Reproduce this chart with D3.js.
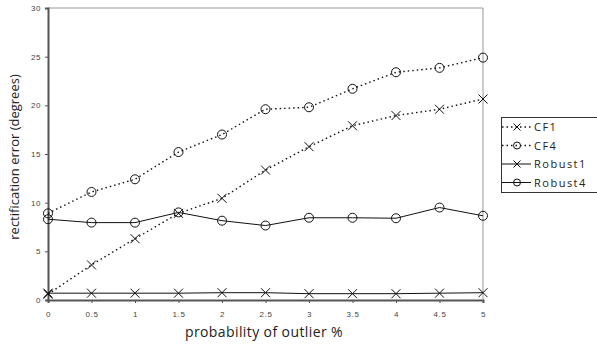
<!DOCTYPE html>
<html>
<head>
<meta charset="utf-8">
<script src="https://cdn.jsdelivr.net/npm/d3@7/dist/d3.min.js"></script>
<style>
  body { margin: 0; background: #fff; }
  svg { display: block; font-family: "Open Sans", "DejaVu Sans", sans-serif; }
</style>
</head>
<body>
<div id="chart"></div>
<script>
// data
const xValues = [0, 0.5, 1, 1.5, 2, 2.5, 3, 3.5, 4, 4.5, 5];
const cf1 = [0.6, 3.6, 6.3, 8.9, 10.45, 13.35, 15.75, 17.9, 18.95, 19.6, 20.65];
const cf4 = [8.9, 11.1, 12.4, 15.2, 17.0, 19.6, 19.8, 21.7, 23.4, 23.85, 24.9];
const robust1 = [0.7, 0.7, 0.7, 0.7, 0.75, 0.75, 0.65, 0.65, 0.65, 0.7, 0.75];
const robust4 = [8.3, 7.95, 7.95, 9.0, 8.15, 7.65, 8.45, 8.45, 8.4, 9.5, 8.65];
const yTicks = [0, 5, 10, 15, 20, 25, 30];
const seriesNames = ["CF1", "CF4", "Robust1", "Robust4"];

const width = 597, height = 347;
const margin = { top: 8, right: 114, bottom: 47, left: 48 };

const svg = d3.select("#chart").append("svg")
  .attr("width", width)
  .attr("height", height);

const x = d3.scaleLinear().domain([0, 5]).range([margin.left, width - margin.right]);
const y = d3.scaleLinear().domain([0, 30]).range([height - margin.bottom, margin.top]);

// plot frame (top + right in light gray)
svg.append("path")
  .attr("d", `M${x(0)},${y(30)}H${x(5)}V${y(0)}`)
  .attr("fill", "none")
  .attr("stroke", "#999")
  .attr("stroke-width", 1);

// axes
const yAxis = d3.axisLeft(y).tickValues(yTicks).tickSize(3).tickPadding(4);
const gy = svg.append("g").attr("transform", `translate(${margin.left},0)`).call(yAxis);
const xAxis = d3.axisBottom(x).tickValues(xValues).tickFormat(d3.format("")).tickSize(3).tickPadding(8);
const gx = svg.append("g").attr("transform", `translate(0,${height - margin.bottom})`).call(xAxis);

[gx, gy].forEach(g => {
  g.select(".domain").attr("stroke", "#555").attr("stroke-width", 2);
  g.selectAll(".tick line").attr("stroke", "#555");
  g.selectAll(".tick text").attr("fill", "#444").attr("font-size", 8).attr("letter-spacing", 0.6);
});

// axis titles
svg.append("text")
  .attr("x", 264).attr("y", 337)
  .attr("text-anchor", "middle")
  .attr("font-size", 14)
  .attr("letter-spacing", 0.4)
  .attr("fill", "#222")
  .text("probability of outlier %");

svg.append("text")
  .attr("transform", `translate(19,${157}) rotate(-90)`)
  .attr("text-anchor", "middle")
  .attr("font-size", 13)
  .attr("fill", "#222")
  .text("rectification error (degrees)");

const series = [
  { name: seriesNames[0], values: cf1, dash: "1.5,3", marker: "x" },
  { name: seriesNames[1], values: cf4, dash: "1.5,3", marker: "o" },
  { name: seriesNames[2], values: robust1, dash: null, marker: "x" },
  { name: seriesNames[3], values: robust4, dash: null, marker: "o" }
];

const line = d3.line().x((d, i) => x(xValues[i])).y(d => y(d));

function drawMarker(g, type, cx, cy, r) {
  if (type === "o") {
    g.append("circle").attr("cx", cx).attr("cy", cy).attr("r", r)
      .attr("fill", "none").attr("stroke", "#111").attr("stroke-width", 1);
  } else {
    g.append("path")
      .attr("d", `M${cx - r},${cy - r}L${cx + r},${cy + r}M${cx - r},${cy + r}L${cx + r},${cy - r}`)
      .attr("stroke", "#111").attr("stroke-width", 1).attr("fill", "none");
  }
}

series.forEach(s => {
  svg.append("path")
    .datum(s.values)
    .attr("d", line)
    .attr("fill", "none")
    .attr("stroke", "#111")
    .attr("stroke-width", s.dash ? 1.4 : 1)
    .attr("stroke-dasharray", s.dash);
  const g = svg.append("g");
  s.values.forEach((v, i) => drawMarker(g, s.marker, x(xValues[i]), y(v), 4.5));
});

// legend
const legend = svg.append("g");
legend.append("rect")
  .attr("x", 501.5).attr("y", 117.5)
  .attr("width", 100).attr("height", 75)
  .attr("fill", "#fff").attr("stroke", "#333");

series.forEach((s, i) => {
  const ly = 127 + i * 18.5;
  legend.append("line")
    .attr("x1", 502).attr("x2", 531).attr("y1", ly).attr("y2", ly)
    .attr("stroke", "#111")
    .attr("stroke-width", s.dash ? 1.4 : 1)
    .attr("stroke-dasharray", s.dash);
  drawMarker(legend, s.marker, 517, ly, 3.5);
  legend.append("text")
    .attr("x", 534).attr("y", ly + 4)
    .attr("font-size", 11)
    .attr("letter-spacing", 1.5)
    .attr("fill", "#222")
    .text(s.name);
});
</script>
</body>
</html>
